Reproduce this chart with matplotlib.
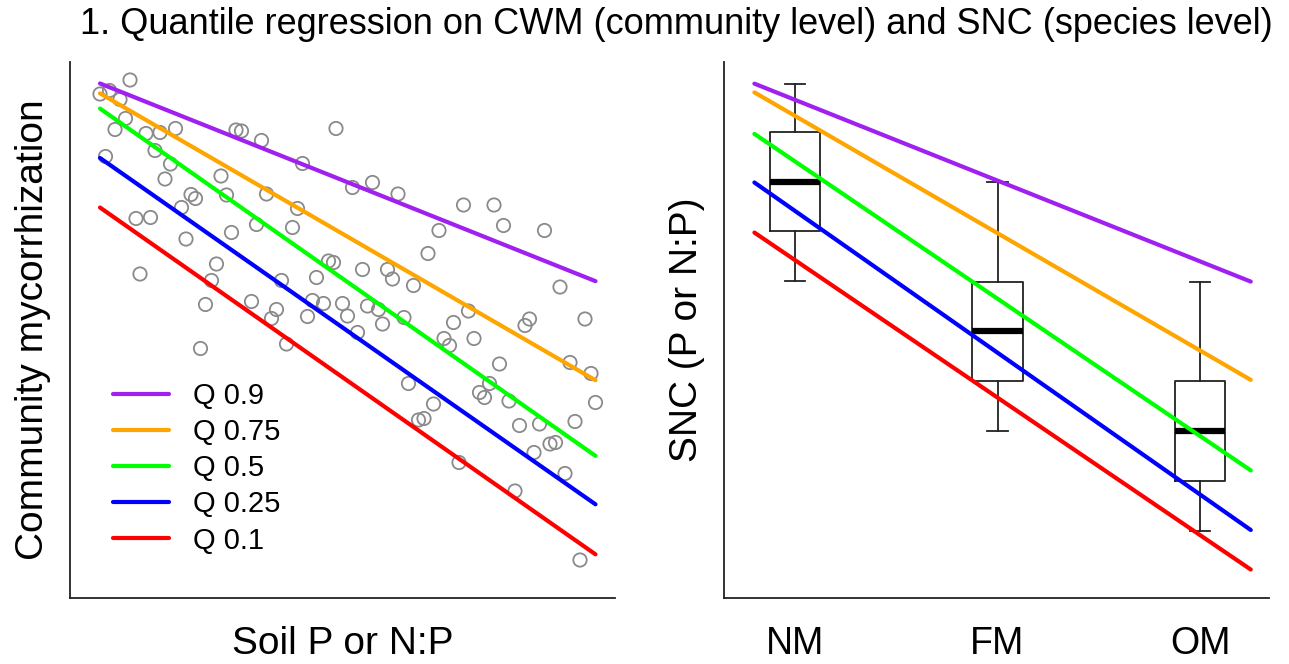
import numpy as np
import matplotlib
matplotlib.use("Agg")
import matplotlib.pyplot as plt
from matplotlib.lines import Line2D

plt.rcParams["font.family"] = ["Liberation Sans", "DejaVu Sans"]

# --- Data: community level (CWM) ---
soil_np = [1.20, 0.60, 0.79, 1.00, 1.11, 0.90, 1.52, 1.80, 2.11, 1.70,
           2.01, 0.71, 1.90, 3.32, 3.43, 3.83, 5.32, 4.65, 3.02, 2.42,
           2.51, 3.13, 3.93, 4.55, 2.23, 1.32, 1.61, 2.32, 3.23, 3.73,
           4.45, 5.17, 5.27, 2.93, 2.83, 1.40, 4.23, 4.93, 2.71, 3.63,
           4.13, 4.03, 4.85, 5.07, 4.75, 5.65, 6.05, 6.56, 7.87, 8.48,
           7.38, 8.67, 9.49, 7.16, 5.85, 6.35, 6.45, 6.87, 9.80, 5.45,
           5.55, 5.95, 6.17, 6.25, 6.68, 5.75, 7.67, 7.97, 9.19, 9.10,
           10.30, 7.48, 8.08, 7.59, 8.59, 10.00, 10.42, 6.77, 8.39, 8.19,
           8.29, 8.78, 10.51, 7.27, 6.97, 7.08, 8.99, 9.39, 10.10, 9.60,
           9.71, 9.28, 9.90, 7.78, 8.90, 10.20, 2.61, 4.33]
mycorrhization = [10.36, 10.08, 10.15, 9.97, 9.59, 9.37, 9.29, 9.31, 9.39, 8.95,
                  8.68, 8.83, 8.38, 9.36, 9.34, 9.15, 9.39, 8.69, 8.44, 8.07,
                  7.99, 8.06, 8.08, 7.79, 7.81, 7.59, 7.61, 7.18, 7.31, 7.47,
                  7.41, 6.74, 6.71, 6.68, 6.35, 6.48, 6.35, 6.41, 5.87, 5.93,
                  5.77, 5.59, 5.95, 5.89, 5.63, 8.21, 8.31, 8.08, 7.86, 7.86,
                  7.35, 7.45, 7.35, 6.89, 6.57, 6.57, 6.38, 6.25, 6.22, 5.89,
                  5.64, 5.84, 5.77, 5.48, 5.61, 5.31, 5.51, 5.74, 5.58, 5.45,
                  5.58, 5.19, 5.19, 5.05, 4.68, 4.71, 4.49, 4.29, 4.29, 4.11,
                  4.01, 3.94, 3.91, 3.88, 3.56, 3.59, 3.45, 3.48, 3.53, 3.08,
                  3.11, 2.91, 2.49, 2.71, 2.14, 0.76, 4.99, 5.08]

quantiles = ["Q 0.9", "Q 0.75", "Q 0.5", "Q 0.25", "Q 0.1"]
q_colors = ["#A020F0", "#FFA500", "#00FF00", "#0000FF", "#FF0000"]
cwm_intercept = [10.53, 10.44, 10.21, 9.22, 8.23]
cwm_slope = [-0.399, -0.579, -0.701, -0.699, -0.700]

# --- Data: species level (SNC) ---
groups = ["NM", "FM", "OM"]
snc_low = [6.35, 3.35, 1.35]
snc_q1 = [7.35, 4.35, 2.35]
snc_med = [8.32, 5.35, 3.35]
snc_q3 = [9.33, 6.33, 4.35]
snc_high = [10.28, 8.33, 6.33]
snc_intercept = [11.58, 11.99, 11.48, 10.58, 9.51]
snc_slope = [-1.616, -2.347, -2.747, -2.837, -2.751]
snc_line_x = [0.8, 3.25]

# --- Figure ---
fig = plt.figure(figsize=(12.89, 6.64), dpi=100)
ax1 = fig.add_axes([70 / 1289, 66 / 664, 545 / 1289, 536 / 664])
ax2 = fig.add_axes([724 / 1289, 66 / 664, 545 / 1289, 536 / 664])

for ax in (ax1, ax2):
    ax.spines["top"].set_visible(False)
    ax.spines["right"].set_visible(False)
    for s in ("left", "bottom"):
        ax.spines[s].set_linewidth(1.3)
        ax.spines[s].set_color("#222222")
    ax.set_ylim(0, 10.72)
    ax.set_yticks([])

# --- Left panel: scatter + quantile lines ---
ax1.scatter(soil_np, mycorrhization, s=92, facecolors="none",
            edgecolors="#8a8a8a", linewidths=1.3, zorder=2)
xs = np.array([min(soil_np), max(soil_np)])
for b0, b1, col in zip(cwm_intercept, cwm_slope, q_colors):
    ax1.plot(xs, b0 + b1 * xs, color=col, lw=3, solid_capstyle="round", zorder=3)
ax1.set_xlim(0, 10.9)
ax1.set_xticks([])
ax1.set_xlabel("Soil P or N:P", fontsize=28, labelpad=20)
ax1.set_ylabel("Community mycorrhization", fontsize=28, labelpad=14)

handles = [Line2D([0], [0], color=c, lw=3, solid_capstyle="round") for c in q_colors]
ax1.legend(handles, quantiles, loc="upper left", bbox_to_anchor=(0.058, 0.425),
           frameon=False, fontsize=21, handlelength=1.9, handletextpad=0.85,
           labelspacing=0.28, borderaxespad=0)

# --- Right panel: boxplots + quantile lines ---
stats = []
for i, g in enumerate(groups):
    stats.append({"label": g, "whislo": snc_low[i], "q1": snc_q1[i], "med": snc_med[i],
                  "q3": snc_q3[i], "whishi": snc_high[i], "fliers": []})
ax2.bxp(stats, positions=[1, 2, 3], widths=0.25, capwidths=0.1, showfliers=False,
        boxprops=dict(color="#222222", lw=1.3),
        whiskerprops=dict(color="#222222", lw=1.3),
        capprops=dict(color="#222222", lw=1.3),
        medianprops=dict(color="black", lw=4.5, solid_capstyle="butt"))
lx = np.array(snc_line_x)
for b0, b1, col in zip(snc_intercept, snc_slope, q_colors):
    ax2.plot(lx, b0 + b1 * lx, color=col, lw=3, solid_capstyle="round", zorder=3)
ax2.set_xlim(0.65, 3.34)
ax2.set_xticks([1, 2, 3])
ax2.set_xticklabels(groups, fontsize=27)
ax2.tick_params(axis="x", length=0, pad=20)
ax2.set_ylabel("SNC (P or N:P)", fontsize=28, labelpad=14)

fig.suptitle("1. Quantile regression on CWM (community level) and SNC (species level)",
             fontsize=26, x=0.5248, y=0.99, va="top")

fig.savefig("out.png", dpi=100)
